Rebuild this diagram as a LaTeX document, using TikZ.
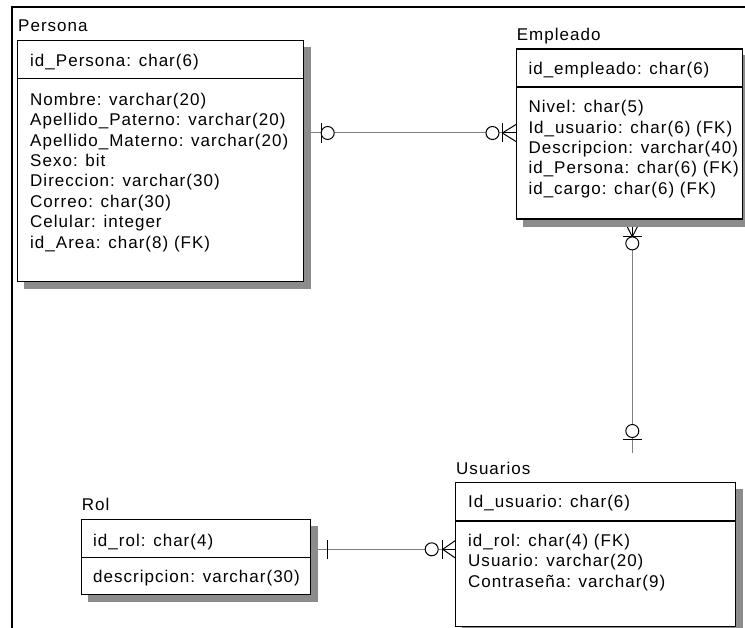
\documentclass[tikz,border=0pt]{standalone}
\usepackage{fontspec}
\setmainfont[LetterSpace=6]{Liberation Sans}
\usetikzlibrary{calc}
\pgfdeclarelayer{lines}
\pgfdeclarelayer{shadows}
\pgfsetlayers{lines,shadows,main}
\begin{document}
\begin{tikzpicture}[x=1pt,y=-1pt,
  font=\fontsize{17}{20}\selectfont,
  entbox/.style={draw=black, line width=1.2pt, fill=white, inner sep=0pt, anchor=north west},
  shadowfill/.style={fill=black!45},
  title/.style={anchor=base west, inner sep=0pt},
  attr/.style={anchor=base west, inner sep=0pt},
  frameline/.style={line width=1.6pt},
  relline/.style={draw=black!50, line width=1pt},
  sym/.style={draw=black, line width=1pt},
  symcirc/.style={draw=black, line width=1pt, fill=white},
]
\useasboundingbox (0,0) rectangle (745,628);

% outer frame
\coordinate (fbl) at (12,640);
\coordinate (ftl) at (12,7);
\coordinate (ftr) at (760,7);
\draw[frameline] (fbl) -- (ftl) -- (ftr);

% entity boxes
\node[entbox, minimum width=286pt, minimum height=241pt] (persona) at (17,40) {};
\node[entbox, minimum width=226pt, minimum height=170pt] (empleado) at (516,48.5) {};
\node[entbox, minimum width=280pt, minimum height=144pt] (usuarios) at (455,482) {};
\node[entbox, minimum width=229pt, minimum height=75pt] (rol) at (81,519) {};

% shadows
\begin{pgfonlayer}{shadows}
\foreach \e in {persona,empleado,usuarios,rol}{
  \fill[shadowfill] ($(\e.north west)+(7,7)$) rectangle ($(\e.south east)+(7,7)$);
}
\end{pgfonlayer}

% dividers
\draw[line width=1.2pt] ($(persona.north west)+(0,38.5)$) -- ($(persona.north east)+(0,38.5)$);
\draw[line width=1.2pt] ($(empleado.north west)+(0,38.5)$) -- ($(empleado.north east)+(0,38.5)$);
\draw[line width=1.2pt] ($(usuarios.north west)+(0,39)$) -- ($(usuarios.north east)+(0,39)$);
\draw[line width=1.2pt] ($(rol.north west)+(0,38.5)$) -- ($(rol.north east)+(0,38.5)$);

% titles
\node[title] (tPersona) at (18,32) {Persona};
\node[title] (tEmpleado) at (516.7,41) {Empleado};
\node[title] (tUsuarios) at (456,474.3) {Usuarios};
\node[title] (tRol) at (81.7,511) {Rol};

% Persona attributes
\node[attr] (p0) at (30,67) {id\_Persona: char(6)};
\node[attr] (p1) at (30,105.3) {Nombre: varchar(20)};
\node[attr] (p2) at (30,125.7) {Apellido\_Paterno: varchar(20)};
\node[attr] (p3) at (30,146.1) {Apellido\_Materno: varchar(20)};
\node[attr] (p4) at (30,166.5) {Sexo: bit};
\node[attr] (p5) at (30,186.9) {Direccion: varchar(30)};
\node[attr] (p6) at (30,207.3) {Correo: char(30)};
\node[attr] (p7) at (30,227.7) {Celular: integer};
\node[attr] (p8) at (30,248.1) {id\_Area: char(8) (FK)};

% Empleado attributes
\begin{scope}
\clip ($(empleado.north west)+(1,1)$) rectangle ($(empleado.south east)+(-1,-1)$);
\node[attr] (e0) at (528.3,74.3) {id\_empleado: char(6)};
\node[attr] (e1) at (528.3,112.7) {Nivel: char(5)};
\node[attr] (e2) at (528.3,133.1) {Id\_usuario: char(6) (FK)};
\node[attr] (e3) at (528.3,153.5) {Descripcion: varchar(40)};
\node[attr] (e4) at (528.3,173.9) {id\_Persona: char(6) (FK)};
\node[attr] (e5) at (528.3,194.3) {id\_cargo: char(6) (FK)};
\end{scope}

% Usuarios attributes
\node[attr] (u0) at (468,507.9) {Id\_usuario: char(6)};
\node[attr] (u1) at (468,546.3) {id\_rol: char(4) (FK)};
\node[attr] (u2) at (468,566.7) {Usuario: varchar(20)};
\node[attr] (u3) at (468,587.1) {Contraseña: varchar(9)};

% Rol attributes
\begin{scope}
\clip ($(rol.north west)+(1,1)$) rectangle ($(rol.south east)+(-1,-1)$);
\node[attr] (r0) at (93,546) {id\_rol: char(4)};
\node[attr] (r1) at (93,582.7) {descripcion: varchar(30)};
\end{scope}

% ---------- relationships ----------
\coordinate (ry1) at (0,133);
\coordinate (rx2) at (632.3,0);
\coordinate (ry3) at (0,549.3);
\coordinate (uend) at ($(usuarios.north -| rx2)+(0,-29)$);

\begin{pgfonlayer}{lines}
\draw[relline] (persona.east |- ry1) -- (empleado.west |- ry1);
\draw[relline] (empleado.south -| rx2) -- (uend);
\draw[relline] (rol.east |- ry3) -- (usuarios.west |- ry3);
% crow's feet under shadows
\coordinate (ecf) at ($(empleado.south -| rx2)+(0,17.2)$);
\draw[sym] (ecf) -- ($(empleado.south -| rx2)+(-8.5,0)$);
\draw[sym] (ecf) -- ($(empleado.south -| rx2)+(8.5,0)$);
\draw[sym] (ecf) -- (empleado.south -| rx2);
\end{pgfonlayer}

% Persona end: zero or one
\draw[sym] ($(persona.east |- ry1)+(17,-10)$) -- ++(0,20);
\draw[symcirc] ($(persona.east |- ry1)+(23.5,0)$) circle[radius=6.5];

% Empleado end (horizontal): zero or many
\coordinate (eap) at ($(empleado.west |- ry1)+(-13.7,0)$);
\draw[sym] ($(eap)+(0,-9.5)$) -- ++(0,19);
\draw[sym] (eap) -- ($(empleado.west |- ry1)+(0,-8.5)$);
\draw[sym] (eap) -- ($(empleado.west |- ry1)+(0,8.5)$);
\draw[sym] (eap) -- (empleado.west |- ry1);
\draw[symcirc] ($(empleado.west |- ry1)+(-23.5,0)$) circle[radius=6.5];

% Empleado end (vertical): zero or many
\draw[sym] ($(ecf)+(-9.5,0)$) -- ++(19,0);
\draw[symcirc] ($(ecf)+(0,6.5)$) circle[radius=6.5];

% Usuarios end (vertical): zero or one
\draw[sym] ($(uend)+(-9.5,-13)$) -- ++(19,0);
\draw[symcirc] ($(uend)+(0,-22)$) circle[radius=6.5];

% Rol end: exactly one
\draw[sym] ($(rol.east |- ry3)+(16.7,-9.6)$) -- ++(0,19.2);

% Usuarios end (horizontal): zero or many
\coordinate (uap) at ($(usuarios.west |- ry3)+(-12.3,0)$);
\draw[sym] ($(uap)+(0,-9.5)$) -- ++(0,19);
\draw[sym] (uap) -- ($(usuarios.west |- ry3)+(0,-8.5)$);
\draw[sym] (uap) -- ($(usuarios.west |- ry3)+(0,8.5)$);
\draw[sym] (uap) -- (usuarios.west |- ry3);
\draw[symcirc] ($(usuarios.west |- ry3)+(-23.3,0)$) circle[radius=6.5];
\end{tikzpicture}
\end{document}
